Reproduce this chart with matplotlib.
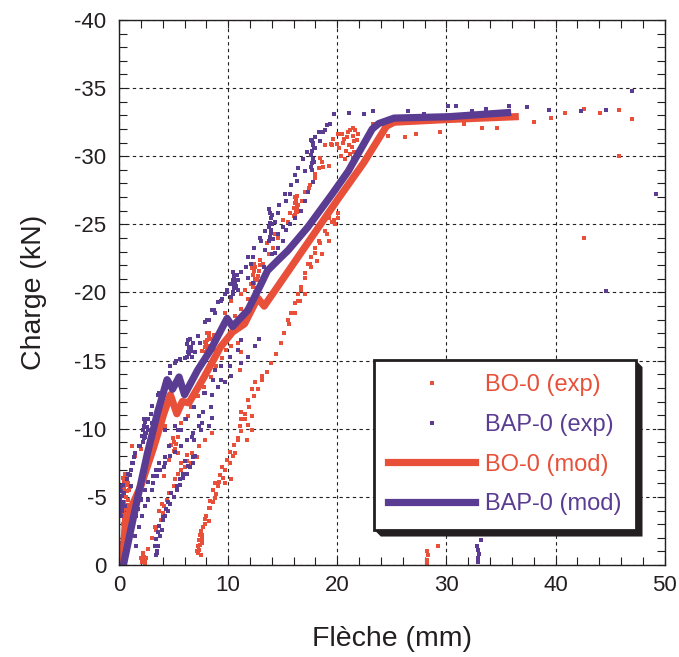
import matplotlib
matplotlib.use("Agg")
import matplotlib.pyplot as plt
from matplotlib.patches import Polygon
from matplotlib.transforms import IdentityTransform
from matplotlib.ticker import MultipleLocator

plt.rcParams['font.family'] = ['Liberation Sans', 'DejaVu Sans']
plt.rcParams['axes.unicode_minus'] = False

# BO-0 (exp)
bo_exp_x = [0.4, 0.5, 0.6, 0.5, 0.7, 0.4, 0.6, 0.8, 0.5, 0.7, 0.6, 0.9, 0.5, 0.7, 0.4, 0.6, 0.5, 0.3, 0.2, 0.6, 0.8, 1.0,
            2.1, 2.2, 2.3, 2.2, 2.4, 2.0,
            1.2, 1.5, 2.0, 3.2, 3.5, 3.8, 4.1, 5.0, 5.2, 4.9,
            2.7, 3.0, 3.4, 3.7, 4.1, 4.5, 4.6, 5.1, 5.4, 6.0, 6.6, 7.1,
            4.1, 4.6, 5.0, 5.4, 6.0, 6.6, 7.2, 7.8, 8.4, 8.9, 9.4, 9.8,
            7.1, 7.2, 7.3, 7.4, 7.55, 7.9, 8.0, 8.3, 8.6, 8.9, 9.1, 9.2, 9.7, 10.2, 10.6, 10.9, 11.2, 11.5, 11.9,
            12.4, 12.7, 13.1, 13.6, 13.9, 14.4, 14.8, 15.1, 15.6, 16.1, 16.4, 16.7, 17.0, 17.5, 18.0, 18.4, 19.1,
            19.7, 20.1, 7.6, 8.2, 8.8, 9.5, 10.4,
            8.0, 8.1, 8.2, 8.0, 8.1, 8.2, 8.1, 7.9,
            12.3, 12.4, 12.5, 12.3, 12.4, 12.5, 12.4, 12.6,
            16.1, 16.2, 16.3, 16.1, 16.2, 16.3, 16.0,
            21.4, 21.5, 21.3, 21.5, 21.4, 21.6, 21.4, 20.2, 20.5, 20.8, 20.9, 21.1, 20.4, 21.8, 20.0, 19.6, 21.0,
            18.4, 18.7, 18.0, 17.4, 16.8, 15.7, 15.0, 14.3, 13.6, 12.9, 19.4, 20.1,
            23.3, 24.6, 26.2, 27.2, 29.4, 31.6, 33.3, 34.6, 38.0, 39.6, 40.9, 42.6, 44.1, 45.8, 47.0, 45.8, 42.6,
            28.2, 28.2, 28.3, 28.2, 29.2]
bo_exp_y = [-6.4, -6.1, -5.9, -5.6, -5.4, -5.2, -5.0, -4.8, -4.6, -4.4, -4.1, -3.9, -3.7, -3.4, -3.0, -2.5, -2.0, -1.2, -0.5, -6.6, -6.0, -5.7,
            -0.2, -0.4, -0.6, -0.7, -0.3, -0.5,
            -8.7, -8.0, -8.5, -10.2, -10.7, -11.1, -11.4, -8.4, -8.9, -9.3,
            -1.2, -2.0, -2.6, -4.0, -4.3, -4.6, -5.3, -6.3, -6.7, -7.2, -7.5, -7.9,
            -6.5, -7.7, -9.0, -9.4, -10.7, -11.6, -12.4, -13.1, -13.8, -14.6, -15.2, -15.8,
            -1.0, -1.4, -1.8, -2.2, -2.5, -3.0, -3.6, -4.2, -4.6, -5.2, -5.8, -6.1, -7.0, -7.5, -8.2, -9.2, -10.7, -11.1, -11.6,
            -12.4, -12.9, -13.6, -14.2, -14.8, -15.5, -16.3, -17.0, -17.7, -18.5, -19.4, -20.2, -21.4, -22.1, -22.9, -23.6, -24.3,
            -25.3, -25.8, -1.6, -3.2, -4.9, -6.4, -8.0,
            -15.6, -15.9, -16.1, -16.3, -16.5, -16.8, -17.0, -16.0,
            -20.4, -20.7, -21.0, -21.3, -21.6, -21.9, -22.1, -20.9,
            -25.7, -26.0, -26.3, -26.6, -26.9, -27.1, -26.2,
            -29.9, -30.3, -30.7, -31.1, -31.5, -31.9, -32.1, -30.6, -31.0, -30.4, -31.4, -30.8, -31.6, -31.2, -30.9, -31.3, -31.8,
            -29.9, -29.2, -28.7, -27.7, -26.7, -25.8, -25.3, -24.3, -23.6, -22.4, -30.9, -31.6,
            -32.4, -31.5, -31.4, -31.6, -31.8, -32.4, -32.1, -32.1, -32.5, -32.8, -33.2, -33.5, -33.2, -33.4, -32.7, -30.0, -24.0,
            -0.1, -0.4, -0.7, -1.0, -1.4]

# more BO-0 (exp) points, (x, y) pairs: loops and hold points
bo_exp_more = [(7.26, -0.86), (7.4, -1.5), (7.57, -2.2), (7.7, -2.8), (7.9, -3.4), (8.2, -4.2), (8.3, -4.7),
               (8.6, -5.5), (8.8, -6.0), (9.25, -6.6), (9.4, -7.2), (9.9, -7.7), (10.2, -8.3), (10.5, -8.8),
               (10.9, -9.3), (11.2, -9.8), (11.8, -10.3), (12.2, -9.9), (11.7, -9.2), (9.7, -6.0), (10.3, -6.3),
               (7.3, -1.1), (7.5, -0.7), (7.6, -1.9),
               (0.55, -6.7), (0.7, -6.2), (0.9, -5.5), (0.6, -5.0), (0.8, -4.3), (0.3, -4.6), (0.4, -3.8), (0.5, -3.3),
               (2.2, -0.9), (2.4, -0.1), (2.5, -0.5),
               (3.3, -2.8), (3.8, -3.3), (4.06, -3.8), (3.9, -4.5), (4.4, -4.8), (4.7, -5.3), (5.0, -5.8), (5.1, -6.3),
               (5.7, -7.0), (6.2, -7.6), (6.7, -8.2), (7.3, -8.7), (7.9, -9.2), (8.5, -9.7),
               (4.2, -10.2), (4.8, -8.8), (5.1, -8.5), (5.4, -8.2), (6.2, -8.1), (5.7, -7.5),
               (8.2, -17.0), (8.4, -16.6), (8.6, -16.2), (8.8, -15.8), (8.3, -15.9), (8.7, -16.9), (7.6, -15.7), (7.9, -16.4),
               (12.2, -12.9), (12.5, -13.4), (13.1, -13.9), (11.8, -12.1), (11.2, -11.2), (11.5, -10.7), (11.1, -10.2), (12.2, -10.9),
               (9.7, -18.5), (10.6, -18.3), (11.2, -18.8), (11.8, -19.5), (12.5, -20.0), (10.3, -16.1), (10.9, -16.3),
               (11.2, -15.6), (11.1, -14.3), (5.7, -10.4), (6.3, -10.9),
               (12.1, -20.6), (12.7, -21.2), (12.9, -22.0), (12.2, -21.8), (12.6, -20.3), (12.8, -21.6),
               (16.0, -25.6), (16.4, -26.4), (16.1, -27.0), (16.3, -25.9), (16.2, -26.7),
               (20.3, -30.0), (20.7, -29.8), (21.2, -31.9), (21.7, -30.0), (21.9, -31.6), (20.6, -31.3), (21.2, -30.2),
               (18.9, -30.8), (19.5, -30.8), (19.2, -29.3), (18.6, -29.6), (18.3, -29.1), (18.0, -28.4), (17.5, -27.9),
               (17.0, -27.4), (16.4, -26.0), (15.5, -25.2), (15.0, -24.8), (14.6, -24.0), (14.1, -23.3), (13.7, -22.8),
               (13.2, -22.1), (11.5, -20.2), (11.2, -19.9), (10.3, -19.4),
               (19.5, -25.2), (19.2, -25.5), (18.9, -24.5), (18.3, -23.8), (18.0, -23.3), (17.6, -22.6), (17.3, -22.1),
               (17.0, -21.1), (16.7, -20.4), (16.4, -19.9), (16.1, -19.2), (15.8, -18.5), (15.5, -18.0),
               (16.6, -19.4), (17.0, -19.9), (17.6, -21.9), (18.1, -22.3), (18.6, -22.8), (19.2, -23.8), (19.8, -25.0),
               (20.1, -25.5)]

# BAP-0 (exp)
bap_exp_x = [0.1, 0.2, 0.3, 0.1, 0.2, 0.3, 0.1, 0.2, 0.4, 0.3, 0.1, 0.1, 0.2, 0.1,
             1.6, 1.7, 2.0, 2.4, 2.7, 3.1, 3.4, 3.7, 4.2, 1.1, 1.3,
             3.3, 3.4, 3.6, 3.7, 4.0, 4.3, 4.5, 4.8, 5.3, 5.6, 5.9, 6.3, 6.8, 3.5, 3.4,
             1.0, 1.1, 1.3, 1.4, 1.1, 1.8, 2.9, 3.7, 4.7, 5.2, 7.2, 8.1, 8.7, 9.3, 9.9,
             2.2, 2.3, 2.4, 2.2, 2.3, 2.4, 2.3, 2.1,
             6.2, 6.3, 6.4, 6.2, 6.3, 6.4,
             10.3, 10.4, 10.5, 10.3, 10.4, 10.5, 10.4, 10.6,
             13.7, 13.8, 13.9, 13.7, 13.8, 13.9, 13.8, 13.7,
             17.6, 17.7, 17.8, 17.6, 17.7, 17.8, 17.7,
             4.1, 4.6, 5.4, 6.1, 6.9, 7.8, 8.6, 9.3, 10.2, 10.9, 11.2,
             6.0, 6.9, 7.5, 8.4, 9.3, 10.2,
             10.9, 11.6, 12.3, 13.0, 13.9, 14.6, 15.3, 15.7, 16.3, 17.0, 18.0, 18.4, 18.7, 19.1, 19.7, 21.1, 22.4,
             23.3, 24.1, 25.2, 26.5, 27.9, 30.1, 30.9, 32.3, 33.6, 35.7, 37.4, 39.4, 42.3, 44.6, 47.0, 49.2, 44.6,
             12.3, 13.3, 14.3, 15.0, 15.3,
             32.9, 32.9, 33.0, 32.9, 32.8, 33.2]
bap_exp_y = [-5.7, -5.4, -5.1, -4.8, -4.5, -4.2, -3.9, -3.6, -5.9, -4.0, -1.6, -1.2, -0.8, -0.6,
             -3.6, -4.1, -4.8, -5.5, -6.1, -6.5, -7.0, -7.5, -7.9, -2.4, -3.0,
             -1.4, -1.9, -2.4, -2.9, -3.5, -4.1, -4.6, -5.3, -5.8, -6.3, -6.7, -7.3, -7.9, -1.0, -0.7,
             -6.6, -7.0, -7.5, -7.9, -5.8, -8.7, -11.1, -12.6, -14.6, -15.0, -16.8, -18.0, -18.7, -19.4, -20.2,
             -9.0, -9.3, -9.6, -9.9, -10.2, -10.5, -10.7, -9.5,
             -15.3, -15.6, -15.9, -16.2, -16.5, -15.5,
             -19.7, -20.0, -20.3, -20.6, -20.9, -21.2, -21.5, -20.5,
             -23.8, -24.1, -24.4, -24.8, -25.1, -25.5, -25.8, -26.1,
             -29.2, -29.5, -29.8, -30.1, -30.4, -30.8, -31.1,
             -7.2, -8.7, -9.9, -10.7, -11.6, -12.6, -13.6, -14.6, -15.3, -15.8, -16.5,
             -7.6, -9.2, -9.9, -11.6, -13.6, -14.6,
             -20.9, -21.9, -22.6, -23.8, -24.6, -25.8, -26.7, -27.2, -28.2, -28.9, -30.6, -31.1, -31.8, -32.3, -33.1, -33.2, -33.1,
             -33.3, -32.5, -32.9, -33.3, -33.1, -33.7, -33.7, -33.3, -33.5, -33.7, -33.6, -33.4, -33.3, -33.4, -34.8, -27.2, -20.1,
             -20.7, -21.9, -22.9, -23.8, -24.6,
             -0.2, -0.5, -0.8, -1.1, -1.4, -1.8]

# more BAP-0 (exp) points, (x, y) pairs
bap_exp_more = [(3.45, -0.86), (3.6, -1.4), (3.75, -2.1), (3.9, -2.6), (4.06, -3.3), (4.2, -3.6), (4.5, -4.0),
                (4.7, -4.5), (5.0, -5.0), (5.3, -5.5), (5.6, -5.9), (5.9, -6.4), (6.2, -6.7), (6.5, -7.2), (6.8, -7.5),
                (7.0, -8.0),
                (1.8, -2.8), (2.1, -3.6), (2.4, -4.3), (2.7, -4.8), (3.0, -5.5), (3.1, -6.0), (3.45, -6.5), (3.75, -7.0),
                (4.2, -7.5), (4.7, -8.0), (5.1, -8.3), (5.7, -8.7), (6.2, -9.2), (6.8, -9.7), (7.3, -10.2),
                (1.5, -2.1), (1.6, -1.4),
                (1.2, -7.5), (1.5, -8.2), (1.9, -8.7), (2.4, -9.4), (2.7, -9.9), (3.0, -10.4), (0.86, -6.7), (0.7, -6.3),
                (2.5, -10.7), (2.6, -10.1), (2.8, -9.2), (2.5, -9.7),
                (0.15, -5.8), (0.5, -5.3), (0.35, -4.6), (0.55, -4.3), (0.2, -0.3), (0.15, -0.1),
                (3.9, -10.4), (4.2, -9.9), (5.1, -10.2), (5.7, -9.9), (6.7, -9.4), (8.2, -10.2),
                (6.5, -16.6), (6.6, -16.0), (6.7, -15.3), (6.8, -16.3), (6.6, -15.7),
                (10.5, -21.0), (10.7, -20.5), (10.9, -20.2), (10.6, -20.8), (10.8, -21.3), (10.4, -19.9),
                (2.7, -10.7), (3.0, -11.7), (3.6, -12.5), (4.2, -13.4), (4.7, -14.1), (5.1, -14.8), (5.6, -15.1),
                (6.0, -15.2), (7.0, -15.6), (7.4, -16.3), (7.9, -17.8), (8.2, -18.0), (8.8, -18.5), (9.4, -19.5),
                (9.9, -20.0),
                (7.9, -12.6), (8.5, -12.5), (9.7, -13.4), (10.3, -13.9), (11.2, -14.8), (11.8, -15.3), (12.5, -16.1),
                (12.8, -16.6), (7.3, -10.9), (7.6, -10.4), (7.7, -11.2), (8.8, -14.3), (9.1, -13.1), (8.5, -10.8),
                (17.6, -31.2), (17.9, -30.6), (17.7, -29.0), (17.8, -31.0), (17.9, -29.6),
                (13.7, -26.1), (14.0, -25.0), (14.1, -23.9), (13.9, -24.6), (14.0, -25.7),
                (8.5, -18.7), (9.1, -19.3), (9.7, -19.9), (10.6, -20.9), (11.2, -21.5), (11.8, -22.6), (12.4, -23.3),
                (12.9, -24.0), (13.4, -24.5), (14.3, -25.2), (14.7, -26.4), (15.2, -27.2), (15.8, -27.9), (16.1, -28.6),
                (16.4, -29.1), (16.9, -29.8), (17.2, -30.3), (18.0, -31.4), (18.3, -31.8), (18.9, -31.9), (19.3, -32.4),
                (14.6, -24.3), (15.0, -24.8), (15.7, -25.0), (16.1, -25.5), (16.7, -26.0), (17.0, -26.7), (17.3, -27.4),
                (17.8, -28.1), (13.4, -23.1), (14.0, -22.8), (14.6, -23.3), (12.1, -22.1), (11.8, -21.1)]

# BO-0 (mod)
bo_mod_x = [0.3, 0.6, 2.0, 3.2, 4.1, 4.7, 5.3, 5.8, 6.4, 7.8, 9.3, 10.4, 11.5, 12.7, 13.3,
            17.0, 20.1, 22.4, 24.5, 25.2, 30.2, 36.3]
bo_mod_y = [0, -3.3, -5.8, -8.7, -11.1, -12.5, -11.1, -12.0, -11.9, -13.8, -16.0, -17.1, -17.7, -19.6, -19.0,
            -23.3, -26.9, -29.5, -32.2, -32.5, -32.7, -32.9]

# BAP-0 (mod)
bap_mod_x = [0.4, 1.4, 2.6, 3.5, 4.4, 4.9, 5.5, 6.0, 7.2, 8.4, 9.9, 10.4, 11.8, 13.0, 13.6,
             14.6, 15.5, 17.3, 19.5, 21.0, 23.2, 23.8, 25.2, 30.2, 35.6]
bap_mod_y = [0, -3.8, -8.2, -11.1, -13.6, -12.9, -13.8, -12.5, -14.3, -15.8, -18.1, -17.5, -18.7, -20.6, -21.6,
             -22.4, -23.1, -24.8, -27.2, -28.9, -32.0, -32.4, -32.8, -32.9, -33.2]

red = '#E8503A'
purple = '#5A3C92'
ink = '#231F20'

bo_x = bo_exp_x + [p[0] for p in bo_exp_more]
bo_y = bo_exp_y + [p[1] for p in bo_exp_more]
bap_x = bap_exp_x + [p[0] for p in bap_exp_more]
bap_y = bap_exp_y + [p[1] for p in bap_exp_more]

fig = plt.figure(figsize=(6.79, 6.57), dpi=100)
ax = fig.add_axes([0.1753, 0.140, 0.8037, 0.8296])

ax.plot(bo_x, bo_y, ls='none', marker='s', ms=2.2, mew=0, color=red, label='BO-0 (exp)')
ax.plot(bap_x, bap_y, ls='none', marker='s', ms=2.2, mew=0, color=purple, label='BAP-0 (exp)')
ax.plot(bo_mod_x, bo_mod_y, color=red, lw=5.2, solid_joinstyle='round', label='BO-0 (mod)')
ax.plot(bap_mod_x, bap_mod_y, color=purple, lw=5.2, solid_joinstyle='round', label='BAP-0 (mod)')

ax.set_xlim(0, 50)
ax.set_ylim(0, -40)
ax.xaxis.set_major_locator(MultipleLocator(10))
ax.xaxis.set_minor_locator(MultipleLocator(2))
ax.yaxis.set_major_locator(MultipleLocator(5))
ax.yaxis.set_minor_locator(MultipleLocator(1))
ax.tick_params(which='both', direction='in', top=True, right=True, color=ink, width=0.8)
ax.tick_params(which='major', length=6, labelsize=16, labelcolor=ink)
ax.tick_params(which='minor', length=6)
ax.tick_params(axis='x', pad=7)
ax.tick_params(axis='y', pad=9)
for s in ax.spines.values():
    s.set_color(ink)
    s.set_linewidth(1.0)
ax.grid(True, which='major', color=ink, lw=0.8, ls=(0, (3, 3)))
ax.set_axisbelow(True)

ax.set_xlabel('Flèche (mm)', fontsize=20.5, color=ink, labelpad=22)
ax.set_ylabel('Charge (kN)', fontsize=20.5, color=ink, labelpad=20)

leg = ax.legend(loc='upper left', bbox_to_anchor=(0.467, 0.376), fontsize=17, frameon=True,
                fancybox=False, framealpha=1, edgecolor=ink, handlelength=3.7,
                handletextpad=0.4, labelspacing=0.75, borderpad=0.6, borderaxespad=0,
                numpoints=1, markerscale=1)
leg.get_frame().set_linewidth(2)
for t, c in zip(leg.get_texts(), [red, purple, red, purple]):
    t.set_color(c)

# drop shadow behind the legend
fig.canvas.draw()
bb = leg.get_window_extent()
d = 7
shadow = Polygon([(bb.x1, bb.y1), (bb.x1 + d, bb.y1 - d), (bb.x1 + d, bb.y0 - d),
                  (bb.x0 + d, bb.y0 - d), (bb.x0, bb.y0)],
                 closed=True, transform=IdentityTransform(), facecolor=ink, edgecolor='none',
                 zorder=4.5, clip_on=False)
ax.add_patch(shadow)

fig.savefig('out.png', dpi=100)
